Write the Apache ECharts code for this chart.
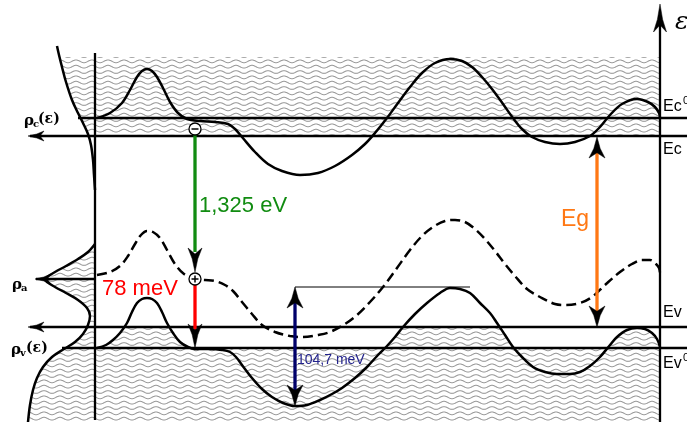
<!DOCTYPE html>
<html><head><meta charset="utf-8">
<script src="https://cdn.jsdelivr.net/npm/echarts@6/dist/echarts.min.js"></script>
<style>html,body{margin:0;padding:0;background:#fff}#c{width:687px;height:425px}</style>
</head><body><div id="c"></div>
<script>
// ===== Data (diagram units: x = position along sample, y = energy, drawn downward) =====
// Conduction band edge (solid)
const condCurve = [[97,118],[110,113],[122,103],[130,90],[137,77],[142,71],[147,69],[152,71],[157,77],[163,88],[170,102],[178,113],[187,119],[200,121],[215,122],[228,124],[235,129],[242,137],[255,152],[268,164],[282,171],[300,175],[318,173],[335,166],[352,155],[365,144],[375,133],[387,118],[398,103],[410,87],[422,73],[435,63],[450,59],[462,61],[472,67],[482,77],[492,89],[503,104],[513,118],[522,129],[532,137],[545,142],[560,144],[575,142],[590,136],[600,127],[610,115],[622,104],[637,99],[648,102],[655,107],[659,113],[660,118]];
// Acceptor band (dashed)
const acceptorCurve = [[97,275],[110,272],[120,266],[128,256],[135,244],[141,235],[147,231],[153,232],[160,238],[167,250],[175,264],[184,274],[195,279],[205,280],[215,281],[225,285],[233,291],[242,302],[252,314],[262,325],[275,332],[290,336],[303,337],[318,335],[330,332],[345,324],[357,315],[370,302],[383,287],[397,268],[410,250],[422,236],[433,227],[445,221],[455,220],[465,222],[475,229],[485,239],[495,251],[505,264],[515,276],[527,289],[540,297],[555,304],[565,305],[580,303],[592,297],[605,285],[620,272],[632,264],[642,260],[650,260],[656,264],[659,268],[660,273]];
// Valence band edge (solid)
const valCurve = [[97,348],[106,345],[113,340],[120,333],[127,323],[132,312],[137,303],[142,299],[147,298],[152,299],[157,303],[162,312],[167,323],[173,333],[180,342],[188,347],[195,349],[210,349],[222,350],[230,352],[236,357],[242,365],[252,378],[262,389],[272,397],[283,403],[295,406],[307,405],[320,400],[332,394],[342,388],[355,378],[367,367],[378,355],[387,346],[395,337],[403,327],[415,314],[427,303],[440,293],[450,288],[460,289],[470,293],[480,303],[490,313],[497,323],[505,335],[513,347],[522,357],[533,367],[545,372],[557,374],[570,374],[580,372],[590,366],[600,357],[610,345],[617,337],[627,330],[637,328],[645,329],[652,333],[657,339],[660,347]];
// Density of states rho_c(E)
const rhoCCurve = [[57,46],[59,55],[62,67],[66,82],[72,100],[78,113],[83,123],[88,134],[91,145],[93,160],[94,175],[95,190]];
// Density of states rho_a (acceptor peak) + rho_v(E)
const rhoAVCurve = [[95,244],[88,252],[78,259],[66,266],[55,272],[47,277],[45,279],[47,282],[55,287],[66,293],[78,300],[87,308],[90,316],[88,325],[83,334],[75,342],[64,349],[52,357],[43,367],[37,378],[33,390],[30,405],[28,422]];

// Energy levels
const levelNames = ['Ec0','Ec','Ev','Ev0'];
const levelE = [118,136,327,348];
const levelFrom = [78,30,30,62];
const rhoALevel = 279;
const hatchTop = 57, hatchBottom = 421;
const axisX = [95,660];

// Transitions
const transNames = ['1,325 eV','78 meV','104,7 meV','Eg'];
const transX = [195,195,295,597];
const transFrom = [134,285,287,137];
const transTo = [272,348,406,327];

// ===== Chart =====
const chart = echarts.init(document.getElementById('c'), null, {renderer:'canvas'});

const wave = (() => {
  const c = document.createElement('canvas'); c.width = 16; c.height = 16;
  const g = c.getContext('2d'); g.strokeStyle = '#999999'; g.lineWidth = 1.05;
  for (let k = 0; k < 3; k++) {
    const y0 = 2.67 + k * 16 / 3; g.beginPath();
    for (let x = -1; x <= 17; x += 0.5) {
      const y = y0 + 1.35 * Math.sin(2 * Math.PI * x / 16);
      if (x === -1) g.moveTo(x, y); else g.lineTo(x, y);
    }
    g.stroke();
  }
  return c;
})();
const hatchFill = {image: wave, repeat: 'repeat'};

function clampEdge(curve, lo, hi) {
  const out = [];
  for (let i = 0; i < curve.length; i++) {
    const p = curve[i];
    if (i > 0) {
      const q = curve[i-1];
      [lo, hi].forEach(b => {
        if ((q[1] - b) * (p[1] - b) < 0) {
          const t = (b - q[1]) / (p[1] - q[1]);
          out.push([q[0] + t * (p[0] - q[0]), b]);
        }
      });
    }
    out.push([p[0], Math.min(hi, Math.max(lo, p[1]))]);
  }
  return out;
}

const condPoly = [[59.5, hatchTop], [axisX[1], hatchTop], [axisX[1], levelE[1]]]
  .concat(rhoCCurve.filter(p => p[1] >= hatchTop && p[1] <= levelE[1]).reverse());
const valEdge = clampEdge(valCurve, levelE[2], levelE[3]);
const valPoly = rhoAVCurve.slice()
  .concat([[axisX[1], hatchBottom]])
  .concat(valEdge.slice().reverse())
  .concat([[axisX[0], levelE[3]]]);

function polySeries(points) {
  return {type:'custom', coordinateSystem:'cartesian2d', data:[[0,0]], silent:true, z:1, animation:false,
    renderItem: (params, api) => ({type:'polygon', shape:{points: points.map(p => api.coord(p))}, style:{fill: hatchFill, stroke: null}})};
}
function lineS(data, color, width, opts) {
  opts = opts || {};
  return {type:'line', data, symbol:'none', showSymbol:false, smooth: opts.smooth || false, silent:true, animation:false, z: opts.z || 3,
    lineStyle:{color, width, type: opts.type || 'solid', cap:'butt'}};
}

const GREEN = '#118c11', RED = '#ff0000', NAVY = '#00006a', NAVYTXT = '#22228c', ORANGE = '#ff7814';

const series = [polySeries(condPoly), polySeries(valPoly)];
// curves
series.push(lineS(condCurve, '#000', 2.5, {smooth:0.35}));
series.push(lineS(valCurve, '#000', 2.5, {smooth:0.35}));
series.push(lineS(acceptorCurve, '#000', 2.5, {smooth:0.35, type:[10,5]}));
series.push(lineS(rhoCCurve, '#000', 2.5, {smooth:0.35}));
series.push(lineS(rhoAVCurve, '#000', 2.5, {smooth:0.35}));
// levels
levelE.forEach((e, i) => series.push(lineS([[levelFrom[i], e], [687, e]], '#000', 2.3)));
series.push(lineS([[36, rhoALevel], [axisX[0], rhoALevel]], '#000', 2.3));
// axes lines
series.push(lineS([[axisX[0], 53], [axisX[0], 420]], '#000', 2.3));
series.push(lineS([[axisX[1], 20], [axisX[1], 422]], '#000', 2.3));
// reference line for 104,7 meV
series.push(lineS([[transX[2], transFrom[2]], [470, transFrom[2]]], '#000', 1));
// transition shafts
series.push(lineS([[transX[0], transFrom[0]], [transX[0], transTo[0] - 20]], GREEN, 3.3, {z:4}));
series.push(lineS([[transX[1], transFrom[1]], [transX[1], transTo[1] - 18]], RED, 3.3, {z:4}));
series.push(lineS([[transX[2], transFrom[2] + 15], [transX[2], transTo[2] - 15]], NAVY, 3.3, {z:4}));
series.push(lineS([[transX[3], transFrom[3] + 15], [transX[3], transTo[3] - 15]], ORANGE, 3.3, {z:4}));

// arrowheads [x, y, direction, kind]
const heads = [
  [28, levelE[1], 'left', 'h'], [28, levelE[2], 'left', 'h'], [35, rhoALevel, 'left', 'h'],
  [axisX[1], 4, 'up', 'axis'],
  [transX[0], transTo[0], 'down', 'g'], [transX[1], transTo[1], 'down', 'g'],
  [transX[2], transFrom[2], 'up', 'v'], [transX[2], transTo[2], 'down', 'v'],
  [transX[3], transFrom[3], 'up', 'v'], [transX[3], transTo[3], 'down', 'v']
];
const headSize = {h:[16,10], axis:[28,13], g:[24,14], v:[21,16]};
const dirs = {left:[-1,0], up:[0,-1], down:[0,1]};
series.push({type:'custom', coordinateSystem:'cartesian2d', silent:true, animation:false, z:6,
  data: heads.map(h => [h[0], h[1]]),
  renderItem: (params, api) => {
    const h = heads[params.dataIndex];
    const tip = api.coord([h[0], h[1]]);
    const [dx, dy] = dirs[h[2]]; const [L, Wd] = headSize[h[3]];
    const nx = -dy, ny = dx;
    const bx = tip[0] - dx * L, by = tip[1] - dy * L;
    const mid = (f, s) => [tip[0] - dx * L * f + nx * s, tip[1] - dy * L * f + ny * s];
    const pts = [tip, mid(0.55, Wd * 0.2), [bx + nx * Wd / 2, by + ny * Wd / 2], mid(0.75, 0),
      [bx - nx * Wd / 2, by - ny * Wd / 2], mid(0.55, -Wd * 0.2)];
    return {type:'polygon', shape:{points: pts, smooth: 0}, style:{fill:'#000', stroke:'#000', lineWidth:0.5}};
  }});

// carriers (electron, hole)
const carriers = [[transX[0], 129, '-'], [transX[0], rhoALevel, '+']];
series.push({type:'custom', coordinateSystem:'cartesian2d', silent:true, animation:false, z:7,
  data: carriers.map(c => [c[0], c[1]]),
  renderItem: (params, api) => {
    const c = carriers[params.dataIndex]; const p = api.coord([c[0], c[1]]);
    const ch = [{type:'circle', shape:{cx:p[0], cy:p[1], r:6}, style:{fill:'#fff', stroke:'#000', lineWidth:1.3}},
      {type:'line', shape:{x1:p[0]-3.5, y1:p[1], x2:p[0]+3.5, y2:p[1]}, style:{stroke:'#000', lineWidth:1.5}}];
    if (c[2] === '+') ch.push({type:'line', shape:{x1:p[0], y1:p[1]-3.5, x2:p[0], y2:p[1]+3.5}, style:{stroke:'#000', lineWidth:1.5}});
    return {type:'group', children: ch};
  }});

// texts
const SANS = '"Liberation Sans", Arial, sans-serif', SERIF = '"DejaVu Serif", serif';
const texts = [
  [transNames[0], 199, 206, GREEN, 'normal 22px ' + SANS],
  [transNames[1], 102, 289, RED, 'normal 22px ' + SANS],
  [transNames[2], 297, 360, NAVYTXT, 'normal 14px ' + SANS],
  [transNames[3], 561, 220, ORANGE, 'normal 23px ' + SANS],
  ['Ec', 663, 107, '#000', 'normal 16px ' + SANS], ['0', 683, 101, '#000', 'normal 11px ' + SANS],
  ['Ec', 663, 150, '#000', 'normal 16px ' + SANS],
  ['Ev', 663, 313, '#000', 'normal 16px ' + SANS],
  ['Ev', 663, 364, '#000', 'normal 16px ' + SANS], ['0', 683, 358, '#000', 'normal 11px ' + SANS],
  ['ε', 675, 22, '#000', 'italic 25px ' + SERIF],
  ['ρ', 24, 121, '#000', 'bold 15px ' + SERIF], ['c', 33, 124, '#000', 'bold 10px ' + SERIF], ['(ε)', 38, 119, '#000', 'bold 14px ' + SERIF],
  ['ρ', 12, 285, '#000', 'bold 15px ' + SERIF], ['a', 21, 288, '#000', 'bold 10px ' + SERIF],
  ['ρ', 11, 350, '#000', 'bold 15px ' + SERIF], ['v', 20, 353, '#000', 'bold 10px ' + SERIF], ['(ε)', 26, 348, '#000', 'bold 14px ' + SERIF]
];
series.push({type:'custom', coordinateSystem:'cartesian2d', silent:true, animation:false, z:8,
  data: texts.map(t => [t[1], t[2]]),
  renderItem: (params, api) => {
    const t = texts[params.dataIndex]; const p = api.coord([t[1], t[2]]);
    return {type:'text', x:p[0], y:p[1], style:{text:t[0], fill:t[3], font:t[4], align:'left', verticalAlign:'middle'}};
  }});

chart.setOption({
  animation:false,
  backgroundColor:'#fff',
  grid:{left:0, right:0, top:0, bottom:0},
  xAxis:{type:'value', min:0, max:687, show:false},
  yAxis:{type:'value', min:0, max:425, inverse:true, show:false},
  series
});
</script></body></html>
